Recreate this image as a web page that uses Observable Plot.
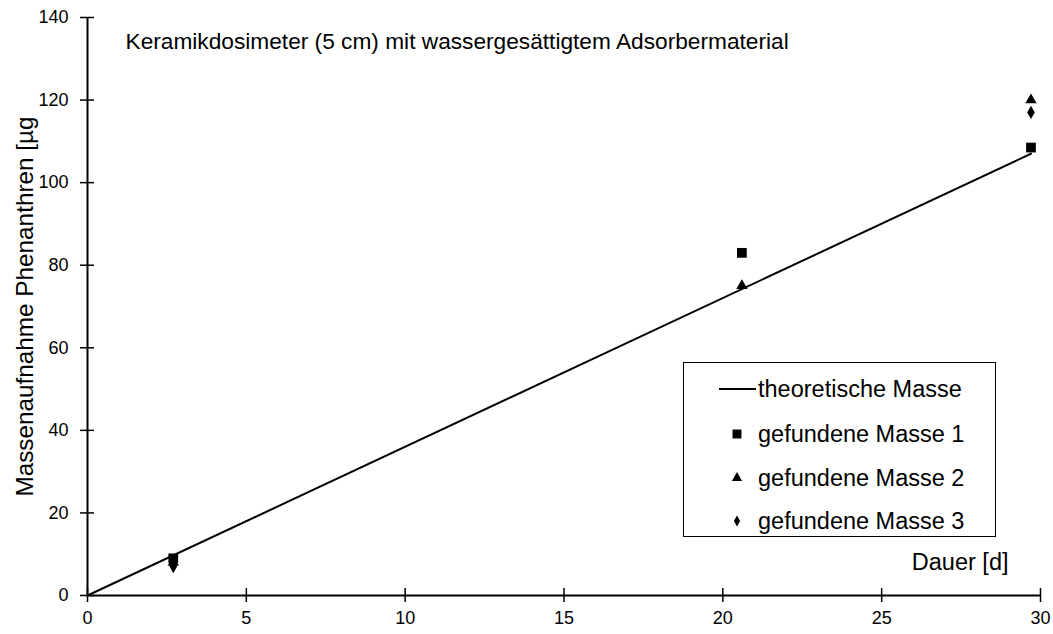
<!DOCTYPE html>
<html><head><meta charset="utf-8">
<script src="https://cdn.jsdelivr.net/npm/d3@7"></script>
<script src="https://cdn.jsdelivr.net/npm/@observablehq/plot@0.6"></script>
<style>
body{margin:0;background:#fff;font-family:"Liberation Sans",Arial,sans-serif;}
#wrap{position:relative;width:1053px;height:634px;overflow:hidden;}
#legend{position:absolute;left:683px;top:362px;width:311px;height:173px;border:1.5px solid #000;background:#fff;}
.row{position:absolute;left:0;height:44px;width:311px;}
.row svg{position:absolute;left:30px;top:0;}
.row span{position:absolute;left:74px;top:0;line-height:44px;font-size:23.5px;color:#000;white-space:nowrap;}
</style></head><body><div id="wrap"><div id="legend"></div></div>
<script>
const title = "Keramikdosimeter (5 cm) mit wassergesättigtem Adsorbermaterial";
const xLabel = "Dauer [d]";
const yLabel = "Massenaufnahme Phenanthren [µg";
const xTicks = [0, 5, 10, 15, 20, 25, 30];
const yTicks = [0, 20, 40, 60, 80, 100, 120, 140];
const days = [2.7, 20.6, 29.7];
const mass1 = [9, 83, 108.5];
const mass2 = [8, 75, 120];
const mass3 = [7, null, 117];
const theoDays = [0, 29.7];
const theoMass = [0, 107];
const seriesNames = ["theoretische Masse", "gefundene Masse 1", "gefundene Masse 2", "gefundene Masse 3"];

const font = '"Liberation Sans", Arial, sans-serif';
const chart = Plot.plot({
  width: 1053, height: 634,
  marginLeft: 87, marginRight: 13, marginTop: 17, marginBottom: 39,
  style: {fontFamily: font, color: "#000", background: "#fff", overflow: "visible"},
  x: {domain: [0, 30]},
  y: {domain: [0, 140]},
  marks: [
    Plot.axisX(xTicks, {tickSize: 0, tickPadding: 16, fontSize: 18, label: null, fill: "#000"}),
    Plot.axisY(yTicks, {tickSize: 0, tickPadding: 19, fontSize: 18, label: null, fill: "#000"}),
    Plot.ruleY([0], {stroke: "#000", strokeWidth: 2}),
    Plot.ruleX([0], {stroke: "#000", strokeWidth: 2}),
    Plot.ruleX(xTicks, {x: d => d, y1: 0, y2: 0, insetTop: -7, insetBottom: -7, stroke: "#000", strokeWidth: 1.5}),
    Plot.ruleY(yTicks, {y: d => d, x1: 0, x2: 0, insetLeft: -7, insetRight: -7, stroke: "#000", strokeWidth: 1.5}),
    Plot.line(theoDays, {x: theoDays, y: theoMass, stroke: "#000", strokeWidth: 2}),
    Plot.dot(days, {x: days, y: mass3, symbol: "diamond", r: 4, fill: "#000", stroke: null}),
    Plot.dot(days, {x: days, y: mass2, symbol: "triangle", r: 4.2, fill: "#000", stroke: null}),
    Plot.dot(days, {x: days, y: mass1, symbol: "square", r: 5.5, fill: "#000", stroke: null}),
    Plot.text([title], {frameAnchor: "top-left", dx: 38, dy: 15, lineAnchor: "top", textAnchor: "start", fontSize: 22.7, fill: "#000"}),
    Plot.text([yLabel], {frameAnchor: "left", rotate: -90, dx: -62, lineAnchor: "middle", textAnchor: "middle", fontSize: 24.3, fill: "#000"}),
    Plot.text([xLabel], {frameAnchor: "bottom-right", dx: -32, dy: -33, lineAnchor: "middle", textAnchor: "end", fontSize: 23.5, fill: "#000"})
  ]
});
const wrap = document.getElementById("wrap");
wrap.insertBefore(chart, wrap.firstChild);

// legend
const legend = document.getElementById("legend");
const centers = [26, 71, 115, 158];
const syms = [null, [d3.symbolSquare, 80], [d3.symbolTriangle, 45], [d3.symbolDiamond, 34]];
seriesNames.forEach((name, i) => {
  const row = document.createElement("div");
  row.className = "row";
  row.style.top = (centers[i] - 22) + "px";
  let inner;
  if (i === 0) inner = '<line x1="5" x2="42" y1="22" y2="22" stroke="#000" stroke-width="2"/>';
  else inner = `<path transform="translate(23,22)" d="${d3.symbol(syms[i][0], syms[i][1])()}" fill="#000"/>`;
  row.innerHTML = `<svg width="44" height="44">${inner}</svg><span>${name}</span>`;
  legend.appendChild(row);
});
</script>
</body></html>
